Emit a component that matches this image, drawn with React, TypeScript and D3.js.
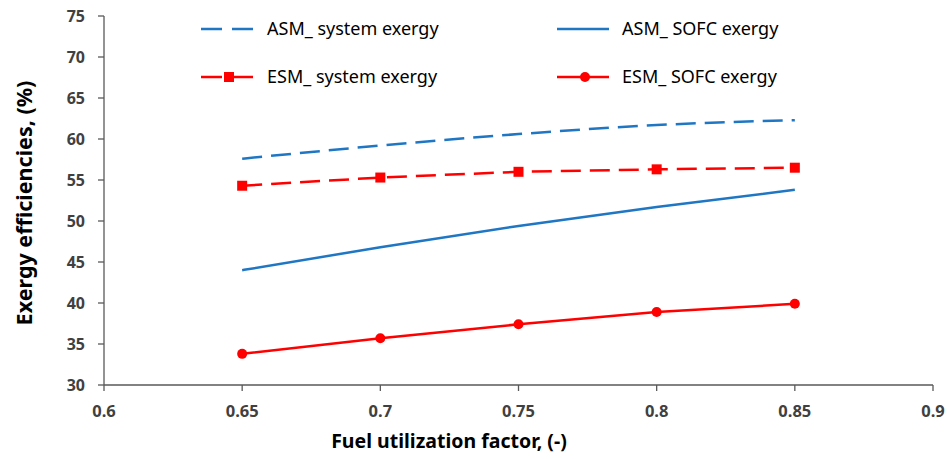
import React from "react";
import * as d3 from "d3";

const xValues = [0.65, 0.7, 0.75, 0.8, 0.85];
const asmSystem = [57.6, 59.2, 60.6, 61.7, 62.3];
const asmSofc = [44.0, 46.8, 49.4, 51.7, 53.8];
const esmSystem = [54.3, 55.3, 56.0, 56.3, 56.5];
const esmSofc = [33.8, 35.7, 37.4, 38.9, 39.9];
const xTicks = [0.6, 0.65, 0.7, 0.75, 0.8, 0.85, 0.9];
const yTicks = [30, 35, 40, 45, 50, 55, 60, 65, 70, 75];

const BLUE = "#1F77C4";
const RED = "#FF0000";
const AXIS = "#595959";
const FONT = "'Liberation Sans Narrow', 'Noto Sans', 'Liberation Sans', sans-serif";

export default function App() {
  const W = 949, H = 459;
  const left = 104, right = 933, top = 16, bottom = 385;
  const x = d3.scaleLinear().domain([0.6, 0.9]).range([left, right]);
  const y = d3.scaleLinear().domain([30, 75]).range([bottom, top]);

  const mk = (vals: number[], curve: d3.CurveFactory) =>
    d3.line<number>().x((_, i) => x(xValues[i])).y((v) => y(v)).curve(curve)(vals) || "";

  const series = [
    { vals: asmSystem, color: BLUE, dash: "20 9", marker: "none", curve: d3.curveMonotoneX },
    { vals: asmSofc, color: BLUE, dash: "", marker: "none", curve: d3.curveMonotoneX },
    { vals: esmSystem, color: RED, dash: "20 9", marker: "square", curve: d3.curveLinear },
    { vals: esmSofc, color: RED, dash: "", marker: "circle", curve: d3.curveLinear },
  ];

  const legend = [
    { label: "ASM_ system exergy", color: BLUE, dash: "21 10", marker: "none", lx: 201, ly: 29 },
    { label: "ASM_ SOFC exergy", color: BLUE, dash: "", marker: "none", lx: 557, ly: 29 },
    { label: "ESM_ system exergy", color: RED, dash: "21 10", marker: "square", lx: 201, ly: 77 },
    { label: "ESM_ SOFC exergy", color: RED, dash: "", marker: "circle", lx: 557, ly: 77 },
  ];

  const drawMarker = (m: string, cx: number, cy: number, color: string, key: string | number) => {
    if (m === "square") return <rect key={key} x={cx - 5} y={cy - 5} width={10} height={10} fill={color} />;
    if (m === "circle") return <circle key={key} cx={cx} cy={cy} r={5} fill={color} />;
    return null;
  };

  return (
    <svg width={W} height={H} style={{ position: "absolute", left: 0, top: 0, background: "#fff" }} fontFamily={FONT}>
      {/* axes */}
      <line x1={left} x2={left} y1={top} y2={bottom} stroke={AXIS} strokeWidth={1.3} />
      <line x1={left} x2={right} y1={bottom} y2={bottom} stroke={AXIS} strokeWidth={1.3} />
      {yTicks.map((t) => (
        <g key={"y" + t}>
          <line x1={left - 6} x2={left} y1={y(t)} y2={y(t)} stroke={AXIS} strokeWidth={1.3} />
          <text x={left - 19} y={y(t)} dy="0.35em" textAnchor="end" fontSize={16} fontWeight="bold" fill="#404040">
            {t}
          </text>
        </g>
      ))}
      {xTicks.map((t) => (
        <g key={"x" + t}>
          <line x1={x(t)} x2={x(t)} y1={bottom} y2={bottom + 6} stroke={AXIS} strokeWidth={1.3} />
          <text x={x(t)} y={411} dy="0.35em" textAnchor="middle" fontSize={16.5} fontWeight="bold" fill="#404040">
            {t}
          </text>
        </g>
      ))}
      <text x={449} y={441} dy="0.35em" textAnchor="middle" fontSize={19.5} fontWeight="bold" fill="#000">
        Fuel utilization factor, (-)
      </text>
      <text transform={`translate(24,203) rotate(-90)`} dy="0.35em" textAnchor="middle" fontSize={21.5} fontWeight="bold" fill="#000">
        Exergy efficiencies, (%)
      </text>

      {/* series */}
      {series.map((s, i) => (
        <g key={"s" + i}>
          <path d={mk(s.vals, s.curve)} fill="none" stroke={s.color} strokeWidth={2.5} strokeDasharray={s.dash || undefined} />
          {s.vals.map((v, j) => drawMarker(s.marker, x(xValues[j]), y(v), s.color, j))}
        </g>
      ))}

      {/* legend */}
      {legend.map((l, i) => (
        <g key={"l" + i}>
          <line x1={l.lx} x2={l.lx + 52} y1={l.ly} y2={l.ly} stroke={l.color} strokeWidth={2.5} strokeDasharray={l.dash || undefined} />
          {drawMarker(l.marker, l.lx + 28, l.ly, l.color, "m")}
          <text x={l.lx + (i % 2 === 0 ? 66 : 65)} y={l.ly} dy="0.35em" fontSize={18} fill="#000">
            {l.label}
          </text>
        </g>
      ))}
    </svg>
  );
}
